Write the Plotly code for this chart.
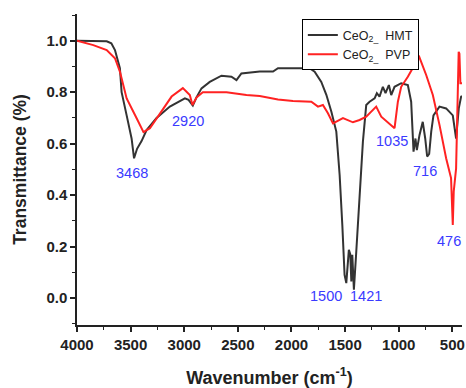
import plotly.graph_objects as go

# CeO2_HMT spectrum
hmt_x = [4000, 3850, 3723, 3680, 3646, 3600, 3584, 3537, 3491, 3468, 3440, 3398, 3351, 3258, 3134,
         2994, 2960, 2920, 2886, 2839, 2762, 2653, 2560, 2513, 2467, 2296, 2172, 2126, 1831, 1784,
         1722, 1675, 1628, 1582, 1551, 1526, 1505, 1489, 1465, 1452, 1442, 1433, 1418, 1396, 1365,
         1334, 1303, 1272, 1225, 1204, 1179, 1148, 1123, 1092, 1070, 1039, 977, 915, 884, 862,
         844, 831, 806, 776, 753, 735, 716, 697, 676, 620, 558, 496, 465, 440, 418, 410]
hmt_y = [1.0, 1.0, 0.998, 0.99, 0.964, 0.893, 0.80, 0.71, 0.62, 0.543, 0.58, 0.61, 0.653, 0.70, 0.744,
         0.776, 0.77, 0.748, 0.78, 0.815, 0.84, 0.864, 0.86, 0.847, 0.873, 0.88, 0.88, 0.893, 0.893, 0.88,
         0.84, 0.79, 0.724, 0.647, 0.478, 0.284, 0.09, 0.058, 0.187, 0.17, 0.064, 0.168, 0.032, 0.18, 0.414,
         0.608, 0.75, 0.763, 0.776, 0.796, 0.783, 0.821, 0.796, 0.828, 0.789, 0.821, 0.835, 0.828, 0.763, 0.569,
         0.62, 0.575, 0.634, 0.685, 0.62, 0.55, 0.56, 0.647, 0.71, 0.744, 0.737, 0.71, 0.62, 0.737, 0.783, 0.785]

# CeO2_PVP spectrum
pvp_x = [4000, 3848, 3723, 3646, 3600, 3537, 3444, 3380, 3320, 3227, 3118, 3013, 2948, 2923, 2886,
         2827, 2606, 2420, 2296, 2126, 1986, 1815, 1753, 1707, 1660, 1613, 1520, 1427, 1365, 1303,
         1210, 1163, 1039, 1008, 977, 915, 853, 813, 744, 682, 620, 558, 512, 496, 487, 465, 450,
         441, 434, 425, 410]
pvp_y = [1.0, 0.983, 0.964, 0.932, 0.88, 0.776, 0.699, 0.645, 0.66, 0.718, 0.783, 0.816, 0.789, 0.75, 0.779,
         0.80, 0.80, 0.789, 0.785, 0.772, 0.766, 0.763, 0.744, 0.75, 0.718, 0.679, 0.699, 0.683, 0.692, 0.705,
         0.744, 0.705, 0.66, 0.763, 0.821, 0.86, 0.906, 0.942, 0.867, 0.789, 0.673, 0.543, 0.466, 0.284, 0.414, 0.504, 0.828,
         0.957, 0.95, 0.835, 0.835]

# peak labels
peak_text = ["3468", "2920", "1035", "716", "476", "1500", "1421"]
peak_x = [3488, 2962, 1067, 752, 527, 1682, 1309]
peak_y = [0.486, 0.688, 0.61, 0.494, 0.222, 0.008, 0.008]

x_ticks = [4000, 3500, 3000, 2500, 2000, 1500, 1000, 500]
y_ticks = [0.0, 0.2, 0.4, 0.6, 0.8, 1.0]

FONT = "Arial, Liberation Sans, sans-serif"

fig = go.Figure()
fig.add_trace(go.Scatter(x=hmt_x, y=hmt_y, mode="lines", name="CeO<sub>2_</sub>  HMT",
                         line=dict(color="#333333", width=2)))
fig.add_trace(go.Scatter(x=pvp_x, y=pvp_y, mode="lines", name="CeO<sub>2_</sub>  PVP",
                         line=dict(color="#ff2222", width=2)))

for t, x, y in zip(peak_text, peak_x, peak_y):
    fig.add_annotation(x=x, y=y, text=t, showarrow=False,
                       font=dict(family=FONT, size=14.5, color="#3a3aff"))

fig.update_layout(
    width=466, height=388,
    margin=dict(l=77, r=4, t=14, b=63, autoexpand=False),
    paper_bgcolor="white", plot_bgcolor="white",
    font=dict(family=FONT, color="#222222"),
    showlegend=True,
    legend=dict(x=0.584, y=0.983, xanchor="left", yanchor="top",
                bordercolor="black", borderwidth=1, bgcolor="white",
                font=dict(family=FONT, size=12.5, color="#222222"),
                tracegroupgap=0, itemwidth=30),
)
fig.update_xaxes(
    range=[4000, 410], tickvals=x_ticks, ticktext=[str(v) for v in x_ticks],
    showgrid=False, zeroline=False, showline=True, linecolor="#222222", linewidth=1.5,
    ticks="outside", ticklen=5, tickwidth=1.5, tickcolor="#222222",
    minor=dict(dtick=250, ticks="outside", ticklen=3, tickcolor="#222222", tickwidth=1, tick0=0),
    tickfont=dict(family=FONT, size=15, color="#222222", weight="bold"),
    title=dict(text="<b>Wavenumber (cm<sup>-1</sup>)</b>", font=dict(family=FONT, size=18, color="#222222"), standoff=20),
)
fig.update_yaxes(
    range=[-0.105, 1.104], tickvals=y_ticks, ticktext=["%.1f" % v for v in y_ticks],
    showgrid=False, zeroline=False, showline=True, linecolor="#222222", linewidth=1.5,
    ticks="outside", ticklen=5, tickwidth=1.5, tickcolor="#222222",
    minor=dict(dtick=0.1, ticks="outside", ticklen=3, tickcolor="#222222", tickwidth=1, tick0=0),
    tickfont=dict(family=FONT, size=15, color="#222222", weight="bold"),
    title=dict(text="<b>Transmittance (%)</b>", font=dict(family=FONT, size=17.5, color="#222222"), standoff=15),
)

fig.write_html("out.html", config={"displayModeBar": False},
               post_script="document.body.style.margin='0';document.body.style.overflow='hidden';")
